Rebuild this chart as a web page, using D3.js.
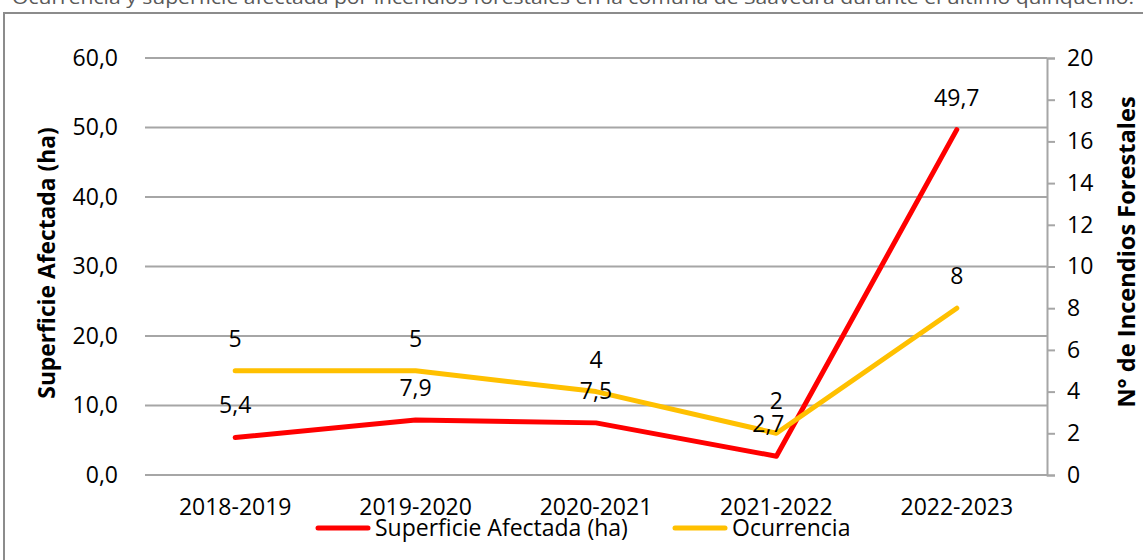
<!DOCTYPE html>
<html>
<head>
<meta charset="utf-8">
<script src="https://cdn.jsdelivr.net/npm/d3@7"></script>
<style>
  body { margin: 0; background: #fff; }
  svg text { font-family: "Open Sans", sans-serif; }
</style>
</head>
<body>
<div id="chart"></div>
<script>
var periodos = ["2018-2019", "2019-2020", "2020-2021", "2021-2022", "2022-2023"];
var superficie = [5.4, 7.9, 7.5, 2.7, 49.7];
var ocurrencia = [5, 5, 4, 2, 8];
var leftTicks = [0, 10, 20, 30, 40, 50, 60];
var rightTicks = [0, 2, 4, 6, 8, 10, 12, 14, 16, 18, 20];

var width = 1143;
var height = 560;
var margin = { top: 58, right: 96, bottom: 85, left: 145 };

var svg = d3.select("#chart")
  .append("svg")
  .attr("width", width)
  .attr("height", height);

// outer frame (goes past the right and bottom edges)
svg.append("rect")
  .attr("x", 4).attr("y", 13)
  .attr("width", 1150).attr("height", 600)
  .attr("fill", "none")
  .attr("stroke", "#8c8c8c")
  .attr("stroke-width", 2);

// title, mostly clipped at the top
svg.append("text")
  .attr("x", 12)
  .attr("y", 4)
  .attr("textLength", 1122)
  .attr("lengthAdjust", "spacingAndGlyphs")
  .style("font-size", "19px")
  .style("fill", "#595959")
  .text("Ocurrencia y superficie afectada por incendios forestales en la comuna de Saavedra durante el último quinquenio.");

var x = d3.scaleBand()
  .domain(periodos)
  .range([margin.left, width - margin.right])
  .padding(0);

var yL = d3.scaleLinear()
  .domain([0, 60])
  .range([height - margin.bottom, margin.top]);

var yR = d3.scaleLinear()
  .domain([0, 20])
  .range([height - margin.bottom, margin.top]);

var fmt = function (d) { return d3.format(".1f")(d).replace(".", ","); };

// gridlines
svg.append("g")
  .selectAll("line")
  .data(leftTicks)
  .join("line")
  .attr("x1", margin.left)
  .attr("x2", width - margin.right)
  .attr("y1", d => yL(d))
  .attr("y2", d => yL(d))
  .attr("stroke", "#a6a6a6")
  .attr("stroke-width", 2);

// left axis
var gl = svg.append("g")
  .attr("transform", "translate(" + margin.left + ",0)")
  .call(d3.axisLeft(yL).tickValues(leftTicks).tickFormat(fmt).tickSize(0).tickPadding(27));
gl.select(".domain").remove();
gl.selectAll("text").style("font-size", "23px").style("fill", "#000").attr("font-family", null);

// right axis
var gr = svg.append("g")
  .attr("transform", "translate(" + (width - margin.right) + ",0)")
  .call(d3.axisRight(yR).tickValues(rightTicks).tickSize(8).tickPadding(12));
gr.select(".domain").attr("stroke", "#a6a6a6").attr("stroke-width", 2);
gr.selectAll("line").attr("stroke", "#a6a6a6").attr("stroke-width", 2);
gr.selectAll("text").style("font-size", "23px").style("fill", "#000").attr("font-family", null);

// x axis labels
var gx = svg.append("g")
  .attr("transform", "translate(0," + (height - margin.bottom) + ")")
  .call(d3.axisBottom(x).tickSize(0).tickPadding(24));
gx.select(".domain").remove();
gx.selectAll("text").style("font-size", "23px").style("fill", "#000").attr("font-family", null);

// axis titles
svg.append("text")
  .attr("transform", "translate(55,263) rotate(-90)")
  .attr("text-anchor", "middle")
  .style("font-size", "22.8px")
  .style("font-weight", "bold")
  .text("Superficie Afectada (ha)");

svg.append("text")
  .attr("transform", "translate(1135,252) rotate(-90)")
  .attr("text-anchor", "middle")
  .style("font-size", "23.6px")
  .style("font-weight", "bold")
  .text("N° de Incendios Forestales");

var cx = d => x(d) + x.bandwidth() / 2;

var lineL = d3.line()
  .x((d, i) => cx(periodos[i]))
  .y(d => yL(d));
var lineR = d3.line()
  .x((d, i) => cx(periodos[i]))
  .y(d => yR(d));

svg.append("path")
  .datum(superficie)
  .attr("fill", "none")
  .attr("stroke", "#ff0000")
  .attr("stroke-width", 5)
  .attr("stroke-linejoin", "round")
  .attr("stroke-linecap", "round")
  .attr("d", lineL);

svg.append("path")
  .datum(ocurrencia)
  .attr("fill", "none")
  .attr("stroke", "#ffc000")
  .attr("stroke-width", 5)
  .attr("stroke-linejoin", "round")
  .attr("stroke-linecap", "round")
  .attr("d", lineR);

// data labels
svg.append("g")
  .selectAll("text")
  .data(superficie)
  .join("text")
  .attr("x", (d, i) => cx(periodos[i]) - (i == 3 ? 8 : 0))
  .attr("y", d => yL(d) - 24)
  .attr("text-anchor", "middle")
  .style("font-size", "23px")
  .text(d => fmt(d));

svg.append("g")
  .selectAll("text")
  .data(ocurrencia)
  .join("text")
  .attr("x", (d, i) => cx(periodos[i]))
  .attr("y", d => yR(d) - 24)
  .attr("text-anchor", "middle")
  .style("font-size", "23px")
  .text(d => d);

// legend
var legend = [
  { name: "Superficie Afectada (ha)", color: "#ff0000", x: 316 },
  { name: "Ocurrencia", color: "#ffc000", x: 673 }
];
var lg = svg.append("g").selectAll("g").data(legend).join("g")
  .attr("transform", d => "translate(" + d.x + ",528)");
lg.append("line")
  .attr("x1", 2).attr("x2", 52)
  .attr("stroke", d => d.color)
  .attr("stroke-width", 5)
  .attr("stroke-linecap", "round");
lg.append("text")
  .attr("x", 59)
  .attr("y", 8)
  .style("font-size", "23px")
  .text(d => d.name);
</script>
</body>
</html>
